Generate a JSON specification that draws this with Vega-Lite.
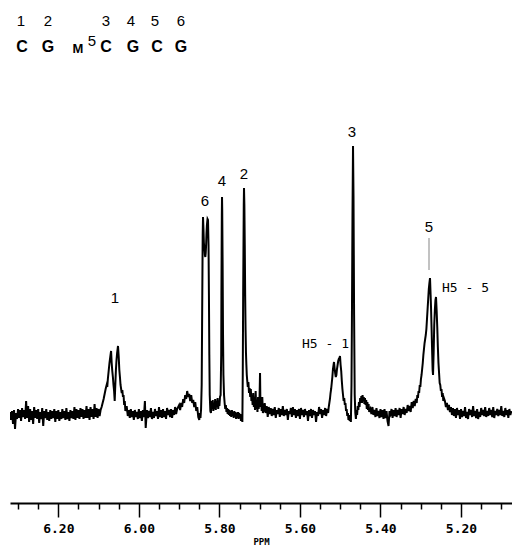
{
  "$schema": "https://vega.github.io/schema/vega-lite/v6.json",
  "width": 502,
  "height": 503,
  "autosize": "none",
  "padding": {"left": 10, "top": 0, "right": 0, "bottom": 42},
  "background": "white",
  "config": {"view": {"stroke": null}},
  "encoding": {
    "x": {"field": "ppm", "type": "quantitative", "scale": {"domain": [5.0734, 6.32], "reverse": true, "nice": false, "zero": false}, "axis": null},
    "y": {"field": "signal", "type": "quantitative", "scale": {"domain": [-88, 415], "nice": false, "zero": false}, "axis": null}
  },
  "resolve": {"axis": {"x": "independent"}},
  "layer": [
    {
      "data": {"values": [
        {"ppm":6.3200,"signal":3},{"ppm":6.3175,"signal":-5},{"ppm":6.3150,"signal":4},{"ppm":6.3125,"signal":-9},{"ppm":6.3100,"signal":5},
        {"ppm":6.3075,"signal":-14},{"ppm":6.3050,"signal":2},{"ppm":6.3025,"signal":-4},{"ppm":6.3000,"signal":6},{"ppm":6.2975,"signal":-3},
        {"ppm":6.2950,"signal":5},{"ppm":6.2925,"signal":-6},{"ppm":6.2900,"signal":7},{"ppm":6.2875,"signal":-2},{"ppm":6.2850,"signal":5},
        {"ppm":6.2825,"signal":-4},{"ppm":6.2800,"signal":14},{"ppm":6.2775,"signal":-3},{"ppm":6.2750,"signal":9},{"ppm":6.2725,"signal":-7},
        {"ppm":6.2700,"signal":6},{"ppm":6.2675,"signal":-5},{"ppm":6.2650,"signal":4},{"ppm":6.2625,"signal":-9},{"ppm":6.2600,"signal":8},
        {"ppm":6.2575,"signal":-3},{"ppm":6.2550,"signal":5},{"ppm":6.2525,"signal":-4},{"ppm":6.2500,"signal":6},{"ppm":6.2475,"signal":-8},
        {"ppm":6.2450,"signal":3},{"ppm":6.2425,"signal":-4},{"ppm":6.2400,"signal":7},{"ppm":6.2375,"signal":-11},{"ppm":6.2350,"signal":4},
        {"ppm":6.2325,"signal":-3},{"ppm":6.2300,"signal":6},{"ppm":6.2275,"signal":-5},{"ppm":6.2250,"signal":3},{"ppm":6.2225,"signal":-6},
        {"ppm":6.2200,"signal":5},{"ppm":6.2175,"signal":-4},{"ppm":6.2150,"signal":4},{"ppm":6.2125,"signal":-3},{"ppm":6.2100,"signal":6},
        {"ppm":6.2075,"signal":-7},{"ppm":6.2050,"signal":4},{"ppm":6.2025,"signal":-4},{"ppm":6.2000,"signal":5},{"ppm":6.1975,"signal":-6},
        {"ppm":6.1950,"signal":3},{"ppm":6.1925,"signal":-4},{"ppm":6.1900,"signal":6},{"ppm":6.1875,"signal":-3},{"ppm":6.1850,"signal":4},
        {"ppm":6.1825,"signal":-5},{"ppm":6.1800,"signal":7},{"ppm":6.1775,"signal":-4},{"ppm":6.1750,"signal":3},{"ppm":6.1725,"signal":-6},
        {"ppm":6.1700,"signal":5},{"ppm":6.1675,"signal":-3},{"ppm":6.1650,"signal":4},{"ppm":6.1625,"signal":-4},{"ppm":6.1600,"signal":8},
        {"ppm":6.1575,"signal":-5},{"ppm":6.1550,"signal":6},{"ppm":6.1525,"signal":-3},{"ppm":6.1500,"signal":5},{"ppm":6.1475,"signal":-4},
        {"ppm":6.1450,"signal":7},{"ppm":6.1425,"signal":-2},{"ppm":6.1400,"signal":6},{"ppm":6.1375,"signal":-4},{"ppm":6.1350,"signal":5},
        {"ppm":6.1325,"signal":-3},{"ppm":6.1300,"signal":9},{"ppm":6.1275,"signal":-3},{"ppm":6.1250,"signal":6},{"ppm":6.1225,"signal":-5},
        {"ppm":6.1200,"signal":8},{"ppm":6.1175,"signal":-2},{"ppm":6.1150,"signal":6},{"ppm":6.1125,"signal":-4},{"ppm":6.1100,"signal":11},
        {"ppm":6.1075,"signal":-2},{"ppm":6.1050,"signal":7},{"ppm":6.1025,"signal":-3},{"ppm":6.1000,"signal":6},{"ppm":6.0975,"signal":-1},
        {"ppm":6.0950,"signal":5},{"ppm":6.0925,"signal":8},{"ppm":6.0900,"signal":12},{"ppm":6.0875,"signal":16},{"ppm":6.0850,"signal":21},
        {"ppm":6.0825,"signal":26},{"ppm":6.0800,"signal":30},{"ppm":6.0785,"signal":28},{"ppm":6.0770,"signal":36},{"ppm":6.0750,"signal":44},
        {"ppm":6.0730,"signal":52},{"ppm":6.0710,"signal":58},{"ppm":6.0690,"signal":64},{"ppm":6.0675,"signal":52},{"ppm":6.0660,"signal":44},
        {"ppm":6.0645,"signal":38},{"ppm":6.0630,"signal":30},{"ppm":6.0615,"signal":24},{"ppm":6.0600,"signal":14},{"ppm":6.0585,"signal":30},
        {"ppm":6.0570,"signal":45},{"ppm":6.0555,"signal":55},{"ppm":6.0540,"signal":62},{"ppm":6.0518,"signal":69},{"ppm":6.0500,"signal":58},
        {"ppm":6.0485,"signal":45},{"ppm":6.0470,"signal":38},{"ppm":6.0455,"signal":30},{"ppm":6.0440,"signal":26},{"ppm":6.0425,"signal":22},
        {"ppm":6.0410,"signal":25},{"ppm":6.0395,"signal":18},{"ppm":6.0380,"signal":20},{"ppm":6.0365,"signal":10},{"ppm":6.0350,"signal":14},
        {"ppm":6.0335,"signal":4},{"ppm":6.0320,"signal":8},
        {"ppm":6.0300,"signal":8},{"ppm":6.0275,"signal":-1},{"ppm":6.0250,"signal":5},{"ppm":6.0225,"signal":-3},{"ppm":6.0200,"signal":6},
        {"ppm":6.0175,"signal":-2},{"ppm":6.0150,"signal":4},{"ppm":6.0125,"signal":-5},{"ppm":6.0100,"signal":5},{"ppm":6.0075,"signal":-2},
        {"ppm":6.0050,"signal":3},{"ppm":6.0025,"signal":-4},{"ppm":6.0000,"signal":6},{"ppm":5.9975,"signal":-3},{"ppm":5.9950,"signal":4},
        {"ppm":5.9925,"signal":-6},{"ppm":5.9900,"signal":5},{"ppm":5.9875,"signal":-2},{"ppm":5.9850,"signal":14},{"ppm":5.9830,"signal":-13},
        {"ppm":5.9800,"signal":5},{"ppm":5.9775,"signal":-3},{"ppm":5.9750,"signal":4},{"ppm":5.9725,"signal":-2},{"ppm":5.9700,"signal":7},
        {"ppm":5.9675,"signal":-4},{"ppm":5.9650,"signal":3},{"ppm":5.9625,"signal":-3},{"ppm":5.9600,"signal":6},{"ppm":5.9575,"signal":-1},
        {"ppm":5.9550,"signal":4},{"ppm":5.9525,"signal":-4},{"ppm":5.9500,"signal":8},{"ppm":5.9475,"signal":-2},{"ppm":5.9450,"signal":5},
        {"ppm":5.9425,"signal":-3},{"ppm":5.9400,"signal":6},{"ppm":5.9375,"signal":-2},{"ppm":5.9350,"signal":4},{"ppm":5.9325,"signal":-4},
        {"ppm":5.9300,"signal":7},{"ppm":5.9275,"signal":0},{"ppm":5.9250,"signal":5},{"ppm":5.9225,"signal":-2},{"ppm":5.9200,"signal":6},
        {"ppm":5.9175,"signal":-3},{"ppm":5.9150,"signal":5},{"ppm":5.9125,"signal":0},{"ppm":5.9100,"signal":8},{"ppm":5.9075,"signal":1},
        {"ppm":5.9050,"signal":6},{"ppm":5.9000,"signal":10},{"ppm":5.8975,"signal":5},{"ppm":5.8950,"signal":12},{"ppm":5.8925,"signal":8},
        {"ppm":5.8900,"signal":16},{"ppm":5.8875,"signal":12},{"ppm":5.8850,"signal":20},{"ppm":5.8825,"signal":16},{"ppm":5.8800,"signal":24},
        {"ppm":5.8775,"signal":18},{"ppm":5.8750,"signal":21},{"ppm":5.8725,"signal":14},{"ppm":5.8700,"signal":20},{"ppm":5.8675,"signal":12},
        {"ppm":5.8650,"signal":15},{"ppm":5.8625,"signal":8},{"ppm":5.8600,"signal":13},{"ppm":5.8575,"signal":4},{"ppm":5.8550,"signal":8},
        {"ppm":5.8525,"signal":-2},{"ppm":5.8500,"signal":-5},{"ppm":5.8485,"signal":2},{"ppm":5.8470,"signal":-3},{"ppm":5.8455,"signal":6},
        {"ppm":5.8440,"signal":30},{"ppm":5.8430,"signal":90},{"ppm":5.8415,"signal":180},{"ppm":5.8407,"signal":198},{"ppm":5.8395,"signal":185},
        {"ppm":5.8385,"signal":172},{"ppm":5.8370,"signal":166},{"ppm":5.8360,"signal":160},{"ppm":5.8350,"signal":158},{"ppm":5.8340,"signal":162},
        {"ppm":5.8330,"signal":170},{"ppm":5.8320,"signal":182},{"ppm":5.8310,"signal":190},{"ppm":5.8295,"signal":196},{"ppm":5.8283,"signal":195},
        {"ppm":5.8270,"signal":170},{"ppm":5.8260,"signal":120},{"ppm":5.8250,"signal":60},{"ppm":5.8240,"signal":20},{"ppm":5.8225,"signal":4},
        {"ppm":5.8210,"signal":2},{"ppm":5.8195,"signal":14},{"ppm":5.8180,"signal":6},{"ppm":5.8165,"signal":15},{"ppm":5.8150,"signal":4},
        {"ppm":5.8135,"signal":12},{"ppm":5.8120,"signal":6},{"ppm":5.8105,"signal":16},{"ppm":5.8090,"signal":5},{"ppm":5.8075,"signal":14},
        {"ppm":5.8060,"signal":8},{"ppm":5.8045,"signal":17},{"ppm":5.8030,"signal":6},{"ppm":5.8015,"signal":13},{"ppm":5.8000,"signal":9},
        {"ppm":5.7985,"signal":18},{"ppm":5.7970,"signal":20},{"ppm":5.7955,"signal":60},{"ppm":5.7950,"signal":120},{"ppm":5.7940,"signal":200},
        {"ppm":5.7935,"signal":218},{"ppm":5.7930,"signal":205},{"ppm":5.7920,"signal":150},{"ppm":5.7910,"signal":80},{"ppm":5.7900,"signal":40},
        {"ppm":5.7885,"signal":20},{"ppm":5.7870,"signal":12},{"ppm":5.7855,"signal":6},{"ppm":5.7840,"signal":10},{"ppm":5.7825,"signal":3},
        {"ppm":5.7810,"signal":7},{"ppm":5.7795,"signal":1},{"ppm":5.7780,"signal":6},{"ppm":5.7765,"signal":0},{"ppm":5.7750,"signal":5},
        {"ppm":5.7735,"signal":-1},{"ppm":5.7720,"signal":4},{"ppm":5.7705,"signal":-2},{"ppm":5.7690,"signal":5},{"ppm":5.7675,"signal":0},
        {"ppm":5.7660,"signal":3},{"ppm":5.7645,"signal":-3},{"ppm":5.7630,"signal":4},{"ppm":5.7615,"signal":-2},{"ppm":5.7600,"signal":3},
        {"ppm":5.7585,"signal":-4},{"ppm":5.7570,"signal":2},{"ppm":5.7555,"signal":-3},{"ppm":5.7540,"signal":3},{"ppm":5.7525,"signal":-4},
        {"ppm":5.7510,"signal":2},{"ppm":5.7495,"signal":-2},{"ppm":5.7480,"signal":1},{"ppm":5.7465,"signal":-6},{"ppm":5.7450,"signal":0},
        {"ppm":5.7430,"signal":-7},{"ppm":5.7420,"signal":40},{"ppm":5.7410,"signal":120},{"ppm":5.7395,"signal":210},{"ppm":5.7389,"signal":227},
        {"ppm":5.7380,"signal":210},{"ppm":5.7370,"signal":170},{"ppm":5.7360,"signal":120},{"ppm":5.7350,"signal":85},{"ppm":5.7340,"signal":62},
        {"ppm":5.7330,"signal":50},{"ppm":5.7320,"signal":40},{"ppm":5.7310,"signal":35},{"ppm":5.7295,"signal":28},{"ppm":5.7280,"signal":33},
        {"ppm":5.7265,"signal":22},{"ppm":5.7250,"signal":27},{"ppm":5.7235,"signal":18},{"ppm":5.7220,"signal":26},{"ppm":5.7205,"signal":14},
        {"ppm":5.7190,"signal":20},{"ppm":5.7175,"signal":10},{"ppm":5.7160,"signal":22},{"ppm":5.7145,"signal":8},{"ppm":5.7130,"signal":15},
        {"ppm":5.7115,"signal":5},{"ppm":5.7100,"signal":24},{"ppm":5.7085,"signal":6},{"ppm":5.7070,"signal":14},{"ppm":5.7055,"signal":3},
        {"ppm":5.7040,"signal":18},{"ppm":5.7025,"signal":6},{"ppm":5.7005,"signal":14},{"ppm":5.6991,"signal":42},{"ppm":5.6980,"signal":8},
        {"ppm":5.6965,"signal":16},{"ppm":5.6950,"signal":4},{"ppm":5.6935,"signal":18},{"ppm":5.6920,"signal":2},
        {"ppm":5.6900,"signal":4},{"ppm":5.6875,"signal":12},{"ppm":5.6850,"signal":2},{"ppm":5.6825,"signal":9},{"ppm":5.6800,"signal":-2},
        {"ppm":5.6775,"signal":8},{"ppm":5.6750,"signal":1},{"ppm":5.6725,"signal":7},{"ppm":5.6700,"signal":-1},{"ppm":5.6675,"signal":6},
        {"ppm":5.6650,"signal":0},{"ppm":5.6625,"signal":8},{"ppm":5.6600,"signal":-3},{"ppm":5.6575,"signal":5},{"ppm":5.6550,"signal":1},
        {"ppm":5.6525,"signal":7},{"ppm":5.6500,"signal":-2},{"ppm":5.6475,"signal":6},{"ppm":5.6450,"signal":0},{"ppm":5.6425,"signal":9},
        {"ppm":5.6400,"signal":-1},{"ppm":5.6375,"signal":5},{"ppm":5.6350,"signal":0},{"ppm":5.6325,"signal":6},{"ppm":5.6300,"signal":-5},
        {"ppm":5.6275,"signal":4},{"ppm":5.6250,"signal":1},{"ppm":5.6225,"signal":7},{"ppm":5.6200,"signal":-2},{"ppm":5.6175,"signal":8},
        {"ppm":5.6150,"signal":0},{"ppm":5.6125,"signal":6},{"ppm":5.6100,"signal":-3},{"ppm":5.6075,"signal":5},{"ppm":5.6050,"signal":-1},
        {"ppm":5.6025,"signal":6},{"ppm":5.6000,"signal":-4},{"ppm":5.5975,"signal":7},{"ppm":5.5950,"signal":0},{"ppm":5.5925,"signal":5},
        {"ppm":5.5900,"signal":-2},{"ppm":5.5875,"signal":6},{"ppm":5.5850,"signal":0},{"ppm":5.5825,"signal":4},{"ppm":5.5800,"signal":-6},
        {"ppm":5.5775,"signal":5},{"ppm":5.5750,"signal":-1},{"ppm":5.5725,"signal":6},{"ppm":5.5700,"signal":-3},{"ppm":5.5675,"signal":5},
        {"ppm":5.5650,"signal":0},{"ppm":5.5625,"signal":4},{"ppm":5.5600,"signal":-7},{"ppm":5.5575,"signal":3},{"ppm":5.5550,"signal":-1},
        {"ppm":5.5525,"signal":8},{"ppm":5.5500,"signal":1},{"ppm":5.5475,"signal":6},{"ppm":5.5450,"signal":-3},{"ppm":5.5425,"signal":5},
        {"ppm":5.5400,"signal":0},{"ppm":5.5375,"signal":7},{"ppm":5.5350,"signal":-1},{"ppm":5.5325,"signal":6},{"ppm":5.5300,"signal":2},
        {"ppm":5.5285,"signal":8},{"ppm":5.5270,"signal":12},{"ppm":5.5255,"signal":16},{"ppm":5.5240,"signal":22},{"ppm":5.5225,"signal":26},
        {"ppm":5.5210,"signal":32},{"ppm":5.5195,"signal":38},{"ppm":5.5180,"signal":46},{"ppm":5.5165,"signal":50},{"ppm":5.5154,"signal":53},
        {"ppm":5.5140,"signal":47},{"ppm":5.5125,"signal":42},{"ppm":5.5110,"signal":38},{"ppm":5.5095,"signal":40},{"ppm":5.5080,"signal":46},
        {"ppm":5.5065,"signal":50},{"ppm":5.5050,"signal":54},{"ppm":5.5035,"signal":56},{"ppm":5.5020,"signal":57},{"ppm":5.5005,"signal":59},
        {"ppm":5.4990,"signal":50},{"ppm":5.4975,"signal":44},{"ppm":5.4960,"signal":34},{"ppm":5.4945,"signal":26},{"ppm":5.4930,"signal":20},
        {"ppm":5.4915,"signal":14},{"ppm":5.4900,"signal":17},{"ppm":5.4885,"signal":10},{"ppm":5.4870,"signal":12},{"ppm":5.4855,"signal":4},
        {"ppm":5.4840,"signal":6},{"ppm":5.4825,"signal":-1},{"ppm":5.4810,"signal":2},{"ppm":5.4795,"signal":-5},{"ppm":5.4780,"signal":0},
        {"ppm":5.4765,"signal":-6},{"ppm":5.4750,"signal":-2},{"ppm":5.4735,"signal":-7},{"ppm":5.4720,"signal":30},{"ppm":5.4710,"signal":90},
        {"ppm":5.4695,"signal":200},{"ppm":5.4682,"signal":269},{"ppm":5.4670,"signal":220},{"ppm":5.4655,"signal":100},{"ppm":5.4640,"signal":20},
        {"ppm":5.4625,"signal":2},{"ppm":5.4610,"signal":-4},{"ppm":5.4595,"signal":5},{"ppm":5.4580,"signal":0},{"ppm":5.4565,"signal":9},
        {"ppm":5.4550,"signal":5},{"ppm":5.4535,"signal":13},{"ppm":5.4520,"signal":8},{"ppm":5.4505,"signal":17},{"ppm":5.4490,"signal":12},
        {"ppm":5.4475,"signal":19},{"ppm":5.4460,"signal":12},{"ppm":5.4445,"signal":20},{"ppm":5.4430,"signal":14},{"ppm":5.4415,"signal":18},
        {"ppm":5.4400,"signal":11},{"ppm":5.4385,"signal":17},{"ppm":5.4370,"signal":10},{"ppm":5.4355,"signal":15},{"ppm":5.4340,"signal":6},
        {"ppm":5.4325,"signal":13},{"ppm":5.4310,"signal":5},{"ppm":5.4295,"signal":11},{"ppm":5.4280,"signal":3},
        {"ppm":5.4250,"signal":6},{"ppm":5.4225,"signal":1},{"ppm":5.4200,"signal":8},{"ppm":5.4175,"signal":0},{"ppm":5.4150,"signal":5},
        {"ppm":5.4125,"signal":-2},{"ppm":5.4100,"signal":7},{"ppm":5.4075,"signal":-1},{"ppm":5.4050,"signal":4},{"ppm":5.4025,"signal":-3},
        {"ppm":5.4000,"signal":6},{"ppm":5.3975,"signal":-2},{"ppm":5.3950,"signal":5},{"ppm":5.3925,"signal":-4},{"ppm":5.3900,"signal":6},
        {"ppm":5.3875,"signal":-3},{"ppm":5.3850,"signal":4},{"ppm":5.3825,"signal":-6},{"ppm":5.3800,"signal":-11},{"ppm":5.3775,"signal":4},
        {"ppm":5.3750,"signal":1},{"ppm":5.3725,"signal":6},{"ppm":5.3700,"signal":-3},{"ppm":5.3675,"signal":5},{"ppm":5.3650,"signal":-1},
        {"ppm":5.3625,"signal":7},{"ppm":5.3600,"signal":-2},{"ppm":5.3575,"signal":5},{"ppm":5.3550,"signal":0},{"ppm":5.3525,"signal":7},
        {"ppm":5.3500,"signal":-3},{"ppm":5.3475,"signal":6},{"ppm":5.3450,"signal":1},{"ppm":5.3425,"signal":8},{"ppm":5.3400,"signal":0},
        {"ppm":5.3375,"signal":6},{"ppm":5.3350,"signal":2},{"ppm":5.3325,"signal":10},{"ppm":5.3300,"signal":4},{"ppm":5.3275,"signal":9},
        {"ppm":5.3250,"signal":3},{"ppm":5.3225,"signal":13},{"ppm":5.3200,"signal":7},{"ppm":5.3175,"signal":14},{"ppm":5.3150,"signal":9},
        {"ppm":5.3125,"signal":16},{"ppm":5.3100,"signal":12},{"ppm":5.3085,"signal":20},{"ppm":5.3070,"signal":17},{"ppm":5.3055,"signal":24},
        {"ppm":5.3040,"signal":22},{"ppm":5.3025,"signal":30},{"ppm":5.3010,"signal":28},{"ppm":5.2995,"signal":36},{"ppm":5.2980,"signal":40},
        {"ppm":5.2965,"signal":46},{"ppm":5.2950,"signal":52},{"ppm":5.2935,"signal":60},{"ppm":5.2920,"signal":66},{"ppm":5.2905,"signal":72},
        {"ppm":5.2890,"signal":76},{"ppm":5.2875,"signal":80},{"ppm":5.2860,"signal":86},{"ppm":5.2845,"signal":96},{"ppm":5.2830,"signal":106},
        {"ppm":5.2815,"signal":116},{"ppm":5.2800,"signal":126},{"ppm":5.2785,"signal":132},{"ppm":5.2770,"signal":137},{"ppm":5.2755,"signal":120},
        {"ppm":5.2745,"signal":108},{"ppm":5.2730,"signal":85},{"ppm":5.2720,"signal":68},{"ppm":5.2705,"signal":45},{"ppm":5.2695,"signal":40},
        {"ppm":5.2680,"signal":62},{"ppm":5.2665,"signal":90},{"ppm":5.2650,"signal":105},{"ppm":5.2635,"signal":115},{"ppm":5.2621,"signal":118},
        {"ppm":5.2605,"signal":104},{"ppm":5.2590,"signal":88},{"ppm":5.2575,"signal":68},{"ppm":5.2560,"signal":52},{"ppm":5.2545,"signal":42},
        {"ppm":5.2530,"signal":32},{"ppm":5.2515,"signal":30},{"ppm":5.2500,"signal":24},{"ppm":5.2485,"signal":26},{"ppm":5.2470,"signal":18},
        {"ppm":5.2455,"signal":22},{"ppm":5.2440,"signal":14},{"ppm":5.2425,"signal":17},{"ppm":5.2400,"signal":14},{"ppm":5.2375,"signal":8},
        {"ppm":5.2350,"signal":12},{"ppm":5.2325,"signal":5},{"ppm":5.2300,"signal":10},{"ppm":5.2275,"signal":3},{"ppm":5.2250,"signal":8},
        {"ppm":5.2225,"signal":0},{"ppm":5.2200,"signal":7},{"ppm":5.2175,"signal":-1},{"ppm":5.2150,"signal":6},{"ppm":5.2125,"signal":-3},
        {"ppm":5.2100,"signal":7},{"ppm":5.2075,"signal":0},{"ppm":5.2050,"signal":5},{"ppm":5.2025,"signal":-4},{"ppm":5.2000,"signal":6},
        {"ppm":5.1975,"signal":-2},{"ppm":5.1950,"signal":4},{"ppm":5.1925,"signal":-1},{"ppm":5.1900,"signal":8},{"ppm":5.1875,"signal":-3},
        {"ppm":5.1850,"signal":3},{"ppm":5.1825,"signal":-4},{"ppm":5.1800,"signal":6},{"ppm":5.1775,"signal":0},{"ppm":5.1750,"signal":5},
        {"ppm":5.1725,"signal":-2},{"ppm":5.1700,"signal":9},{"ppm":5.1675,"signal":-1},{"ppm":5.1650,"signal":4},{"ppm":5.1625,"signal":-3},
        {"ppm":5.1600,"signal":6},{"ppm":5.1575,"signal":-4},{"ppm":5.1550,"signal":3},{"ppm":5.1525,"signal":-2},{"ppm":5.1500,"signal":7},
        {"ppm":5.1475,"signal":0},{"ppm":5.1450,"signal":5},{"ppm":5.1425,"signal":-1},{"ppm":5.1400,"signal":8},{"ppm":5.1375,"signal":-2},
        {"ppm":5.1350,"signal":4},{"ppm":5.1325,"signal":-1},{"ppm":5.1300,"signal":7},{"ppm":5.1275,"signal":0},{"ppm":5.1250,"signal":5},
        {"ppm":5.1225,"signal":-2},{"ppm":5.1200,"signal":8},{"ppm":5.1175,"signal":-3},{"ppm":5.1150,"signal":4},{"ppm":5.1125,"signal":0},
        {"ppm":5.1100,"signal":6},{"ppm":5.1075,"signal":-1},{"ppm":5.1050,"signal":5},{"ppm":5.1025,"signal":0},{"ppm":5.1000,"signal":9},
        {"ppm":5.0975,"signal":-1},{"ppm":5.0950,"signal":4},{"ppm":5.0925,"signal":-2},{"ppm":5.0900,"signal":7},{"ppm":5.0875,"signal":0},
        {"ppm":5.0850,"signal":5},{"ppm":5.0825,"signal":-3},{"ppm":5.0800,"signal":6},{"ppm":5.0775,"signal":0},{"ppm":5.0750,"signal":4}
      ]},
      "mark": {"type": "line", "color": "black", "strokeWidth": 2, "clip": true},
      "encoding": {
        "x": {"field": "ppm", "type": "quantitative", "scale": {"domain": [5.0734, 6.32], "reverse": true, "nice": false, "zero": false},
          "axis": {"orient": "bottom", "values": [5.2, 5.4, 5.6, 5.8, 6.0, 6.2], "format": ".2f", "grid": false,
            "domainColor": "black", "domainWidth": 2, "tickColor": "black", "tickWidth": 1.5, "tickSize": 14,
            "labelFont": "DejaVu Sans Mono", "labelFontSize": 13, "labelFontWeight": "bold", "labelColor": "black", "labelPadding": 5,
            "labelFlush": false, "labelOverlap": false,
            "title": "PPM", "titleFont": "DejaVu Sans Mono", "titleFontSize": 9, "titleFontWeight": "bold", "titleColor": "black", "titlePadding": 2}}
      }
    },
    {
      "data": {"values": [{"ppm": 5.2795, "signal": 177, "signal_end": 145}]},
      "mark": {"type": "rule", "color": "#999999", "strokeWidth": 1.2},
      "encoding": {"y2": {"field": "signal_end"}}
    },
    {
      "data": {"values": [
        {"ppm": 6.0592, "signal": 117, "label": "1"},
        {"ppm": 5.8357, "signal": 214, "label": "6"},
        {"ppm": 5.7935, "signal": 234, "label": "4"},
        {"ppm": 5.7389, "signal": 241, "label": "2"},
        {"ppm": 5.4707, "signal": 283, "label": "3"},
        {"ppm": 5.2795, "signal": 188, "label": "5"}
      ]},
      "mark": {"type": "text", "font": "Liberation Sans", "fontSize": 15, "color": "black", "align": "center", "baseline": "middle"},
      "encoding": {
        "text": {"field": "label"},
        "x": {"field": "ppm", "type": "quantitative",
          "axis": {"orient": "bottom", "values": [5.1, 5.15, 5.25, 5.3, 5.35, 5.45, 5.5, 5.55, 5.65, 5.7, 5.75, 5.85, 5.9, 5.95, 6.05, 6.1, 6.15, 6.25, 6.3],
            "labels": false, "domain": false, "grid": false, "tickColor": "black", "tickWidth": 1.5, "tickSize": 6, "title": null}}
      }
    },
    {
      "data": {"values": [
        {"ppm": 5.5949, "signal": 71, "label": "H5 - 1"},
        {"ppm": 5.2472, "signal": 127, "label": "H5 - 5"}
      ]},
      "mark": {"type": "text", "font": "DejaVu Sans Mono", "fontSize": 13, "color": "black", "align": "left", "baseline": "middle"},
      "encoding": {"text": {"field": "label"}}
    },
    {
      "data": {"values": [
        {"ppm": 6.2926, "signal": 394, "label": "1"},
        {"ppm": 6.2256, "signal": 394, "label": "2"},
        {"ppm": 6.0816, "signal": 394, "label": "3"},
        {"ppm": 6.0195, "signal": 394, "label": "4"},
        {"ppm": 5.9600, "signal": 394, "label": "5"},
        {"ppm": 5.8954, "signal": 394, "label": "6"}
      ]},
      "mark": {"type": "text", "font": "Liberation Sans", "fontSize": 15, "color": "black", "align": "center", "baseline": "middle"},
      "encoding": {"text": {"field": "label"}}
    },
    {
      "data": {"values": [
        {"ppm": 6.2901, "signal": 368, "label": "C"},
        {"ppm": 6.2256, "signal": 368, "label": "G"},
        {"ppm": 6.0816, "signal": 368, "label": "C"},
        {"ppm": 6.0145, "signal": 368, "label": "G"},
        {"ppm": 5.9550, "signal": 368, "label": "C"},
        {"ppm": 5.8954, "signal": 368, "label": "G"}
      ]},
      "mark": {"type": "text", "font": "Liberation Sans", "fontSize": 16, "fontWeight": "bold", "color": "black", "align": "center", "baseline": "middle"},
      "encoding": {"text": {"field": "label"}}
    },
    {
      "data": {"values": [{"ppm": 6.1511, "signal": 366, "label": "M"}]},
      "mark": {"type": "text", "font": "Liberation Sans", "fontSize": 13, "fontWeight": "bold", "color": "black", "align": "center", "baseline": "middle"},
      "encoding": {"text": {"field": "label"}}
    },
    {
      "data": {"values": [{"ppm": 6.1163, "signal": 374, "label": "5"}]},
      "mark": {"type": "text", "font": "Liberation Sans", "fontSize": 15, "color": "black", "align": "center", "baseline": "middle"},
      "encoding": {"text": {"field": "label"}}
    }
  ]
}
